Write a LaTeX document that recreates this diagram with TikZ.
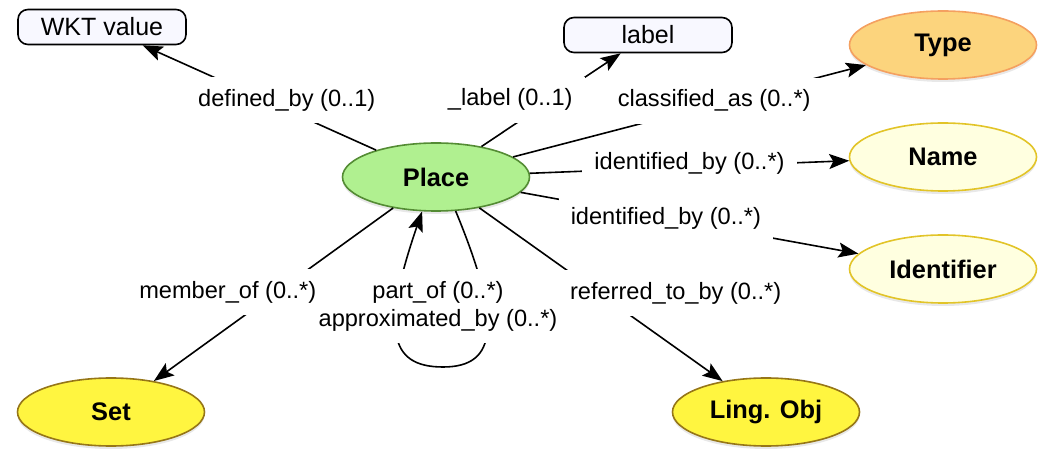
\documentclass[tikz,border=0pt]{standalone}
\usepackage{fontspec}
\setmainfont{Liberation Sans}
\usetikzlibrary{shapes.geometric, arrows.meta, positioning, shadows}
\definecolor{placefill}{RGB}{176,240,144}
\definecolor{placeedge}{RGB}{84,140,52}
\definecolor{typefill}{RGB}{252,212,125}
\definecolor{typeedge}{RGB}{244,160,96}
\definecolor{namefill}{RGB}{255,255,224}
\definecolor{nameedge}{RGB}{226,196,40}
\definecolor{setfill}{RGB}{255,245,64}
\definecolor{setedge}{RGB}{150,118,24}
\definecolor{litfill}{RGB}{248,248,255}
\tikzstyle{class} = [ellipse, draw, line width=0.8pt, minimum width=93.5pt, minimum height=34pt, inner sep=0pt, font=\fontsize{12.7}{15}\selectfont\bfseries, drop shadow={shadow xshift=0pt, shadow yshift=-1.5pt, opacity=0.18}]
\tikzstyle{literal} = [rectangle, draw, rounded corners=5pt, fill=litfill, line width=0.8pt, minimum width=84pt, minimum height=17.5pt, font=\fontsize{12.5}{15}\selectfont]
\tikzstyle{rel} = [fill=white, inner xsep=6pt, inner ysep=6pt, font=\fontsize{11.8}{14}\selectfont]
\tikzstyle{link} = [->, line width=0.8pt]

\begin{document}
\begin{tikzpicture}[x=0.5pt, y=-0.5pt, >={Stealth[length=10pt,width=7.5pt,inset=2pt]}, node distance=56pt]
\useasboundingbox (0,0) rectangle (1054,464);

%nodes
\node (place) [class, fill=placefill, draw=placeedge] at (436,177) {Place};
\node (name) [class, fill=namefill, draw=nameedge] at (943,157) {Name};
\node (type) [class, fill=typefill, draw=typeedge, above of=name] {Type};
\node (ident) [class, fill=namefill, draw=nameedge, below of=name] {Identifier};
\node (set) [class, fill=setfill, draw=setedge] at (111,412) {Set};
\node (ling) [class, fill=setfill, draw=setedge] at (766,412) {Ling. Obj};
\node (wkt) [literal] at (102,27) {WKT value};
\node (lab) [literal] at (648,35) {label};
\coordinate (loopend) at (443,367);

%arrows
\draw [link] (place) -- (wkt) node [rel, pos=0.4, xshift=2pt, yshift=4pt] {defined\_by (0..1)};
\draw [link] (place) -- (lab) node [rel, pos=0.3, xshift=-6.5pt, yshift=9.5pt] {\_label (0..1)};
\draw [link] (place) -- (type) node [rel, pos=0.57, yshift=2pt] {classified\_as (0..*)};
\draw [link] (place) -- (name) node [rel, pos=0.5, yshift=2pt] {identified\_by (0..*)};
\draw [link] (place) -- (ident) node [rel, pos=0.43] {identified\_by (0..*)};
\draw [link] (place) -- (ling) node [rel, pos=0.7, xshift=13pt, yshift=18pt] {referred\_to\_by (0..*)};
\draw [link] (place) -- (set) node [rel, pos=0.62, xshift=-8.5pt, yshift=11.5pt] {member\_of (0..*)};
\draw [link] (place.-60) .. controls (502,323) and (498,367) .. (loopend)
  node [rel, inner xsep=0pt, align=center, xshift=-2.5pt, yshift=30.5pt] {part\_of (0..*)\\approximated\_by (0..*)}
  .. controls (388,367) and (382,328) .. (place.-112);

\end{tikzpicture}
\end{document}
